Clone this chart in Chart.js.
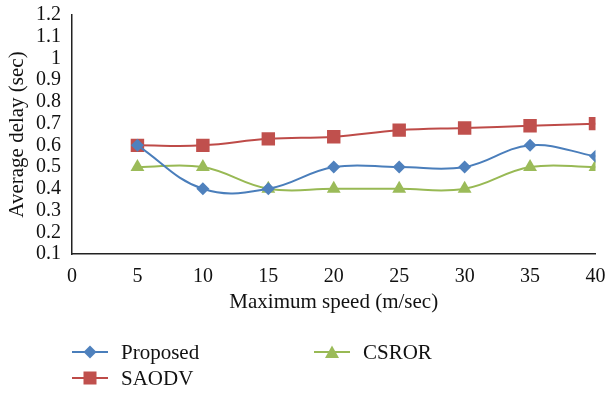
<!DOCTYPE html>
<html>
<head>
<meta charset="utf-8">
<script src="https://cdn.jsdelivr.net/npm/chart.js@4"></script>
<style>
  html, body { margin: 0; padding: 0; background: #fff; }
  #wrap { position: relative; width: 605px; height: 394px; }
  #c { position: absolute; left: 0; top: 0; }
  .lg { position: absolute; font-family: "Liberation Serif", "DejaVu Serif", serif; font-size: 21px; color: #111; display: flex; align-items: center; height: 24px; }
  .lg svg { margin-right: 13px; }
</style>
</head>
<body>
<div id="wrap">
  <canvas id="c" width="605" height="394"></canvas>
  <div class="lg" style="left:72px; top:340px;">
    <svg width="36" height="20"><line x1="0" y1="10" x2="36" y2="10" stroke="#4A7EBB" stroke-width="2"/><polygon points="18,3.5 24.5,10 18,16.5 11.5,10" fill="#4F81BD"/></svg>Proposed
  </div>
  <div class="lg" style="left:72px; top:366px;">
    <svg width="36" height="20"><line x1="0" y1="10" x2="36" y2="10" stroke="#BE4B48" stroke-width="2"/><rect x="11.5" y="3.5" width="13" height="13" fill="#C0504D"/></svg>SAODV
  </div>
  <div class="lg" style="left:314px; top:340px;">
    <svg width="36" height="20"><line x1="0" y1="10" x2="36" y2="10" stroke="#98B954" stroke-width="2"/><polygon points="18,3.5 25,16 11,16" fill="#9BBB59"/></svg>CSROR
  </div>
</div>
<script>
// Maximum speed (m/sec)
const speeds = [5, 10, 15, 20, 25, 30, 35, 40];
// Average delay (sec) per protocol
const proposed = [0.6, 0.4, 0.4, 0.5, 0.5, 0.5, 0.6, 0.55];
const saodv = [0.6, 0.6, 0.63, 0.64, 0.67, 0.68, 0.69, 0.70];
const csror = [0.5, 0.5, 0.4, 0.4, 0.4, 0.4, 0.5, 0.5];
const xTicks = [0, 5, 10, 15, 20, 25, 30, 35, 40];
const yTicks = [0.1, 0.2, 0.3, 0.4, 0.5, 0.6, 0.7, 0.8, 0.9, 1, 1.1, 1.2];

const toPoints = vals => vals.map((v, i) => ({ x: speeds[i], y: v }));
const serif = '"Liberation Serif", "DejaVu Serif", serif';

new Chart(document.getElementById('c'), {
  type: 'line',
  data: {
    datasets: [
      { label: 'Proposed', data: toPoints(proposed), borderColor: '#4A7EBB', backgroundColor: '#4F81BD',
        pointStyle: 'rectRot', pointRadius: 6.5, borderWidth: 2, pointBorderWidth: 0, tension: 0.4, order: 1 },
      { label: 'SAODV', data: toPoints(saodv), borderColor: '#BE4B48', backgroundColor: '#C0504D',
        pointStyle: 'rect', pointRadius: 9.5, borderWidth: 2, pointBorderWidth: 0, tension: 0.4, order: 2 },
      { label: 'CSROR', data: toPoints(csror), borderColor: '#98B954', backgroundColor: '#9BBB59',
        pointStyle: 'triangle', pointRadius: 8, borderWidth: 2, pointBorderWidth: 0, tension: 0.4, order: 3 }
    ]
  },
  options: {
    responsive: false,
    animation: false,
    layout: { padding: { left: 0, right: 0, top: 10, bottom: 75 } },
    plugins: { legend: { display: false }, tooltip: { enabled: false } },
    scales: {
      x: {
        type: 'linear', min: 0, max: 40,
        afterBuildTicks: s => { s.ticks = xTicks.map(v => ({ value: v })); },
        grid: { display: false },
        border: { display: true, color: '#222', width: 1.5 },
        ticks: { color: '#111', font: { family: serif, size: 20 }, padding: 3, maxRotation: 0, autoSkip: false },
        title: { display: true, text: 'Maximum speed (m/sec)', color: '#111', font: { family: serif, size: 21 }, padding: { top: 7 } },
        afterFit: s => { s.height = 65; s.paddingRight = 9; }
      },
      y: {
        min: 0.1, max: 1.2,
        afterBuildTicks: s => { s.ticks = yTicks.map(v => ({ value: v })); },
        grid: { display: false },
        border: { display: true, color: '#222', width: 1.5 },
        ticks: { color: '#111', font: { family: serif, size: 20 }, padding: 3, autoSkip: false,
          callback: v => String(Math.round(v * 10) / 10) },
        title: { display: true, text: 'Average delay (sec)', color: '#111', font: { family: serif, size: 21 }, padding: { top: 5, bottom: 0 } },
        afterFit: s => { s.width = 72; }
      }
    }
  }
});
</script>
</body>
</html>
